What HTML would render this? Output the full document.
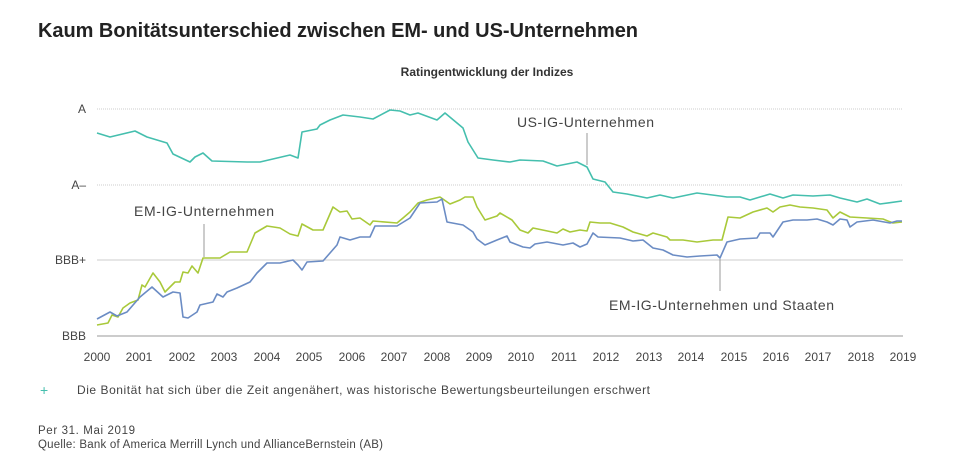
<!DOCTYPE html>
<html><head><meta charset="utf-8"><style>
body{margin:0;background:#fff;width:965px;height:462px;overflow:hidden;font-family:"Liberation Sans",sans-serif}
</style></head><body>
<svg width="965" height="462" xmlns="http://www.w3.org/2000/svg" font-family="Liberation Sans, sans-serif">
<text x="38" y="37" font-size="20" font-weight="bold" fill="#222" textLength="600">Kaum Bonitätsunterschied zwischen EM- und US-Unternehmen</text>
<text x="487" y="76" font-size="12" font-weight="bold" fill="#333" text-anchor="middle">Ratingentwicklung der Indizes</text>
<g stroke="#ccc" stroke-width="1" stroke-dasharray="1,1">
<line x1="97" y1="109" x2="903" y2="109"/><line x1="97" y1="185" x2="903" y2="185"/></g>
<g stroke="#ccc" stroke-width="1"><line x1="97" y1="260" x2="903" y2="260"/></g>
<line x1="97" y1="336" x2="903" y2="336" stroke="#999" stroke-width="1"/>
<g font-size="12" fill="#444" text-anchor="end">
<text x="86" y="113">A</text><text x="86" y="189">A–</text><text x="86" y="264">BBB+</text><text x="86" y="340">BBB</text></g>
<g font-size="12" fill="#444" text-anchor="middle">
<text x="97" y="361">2000</text><text x="139" y="361">2001</text><text x="182" y="361">2002</text><text x="224" y="361">2003</text><text x="267" y="361">2004</text><text x="309" y="361">2005</text><text x="352" y="361">2006</text><text x="394" y="361">2007</text><text x="437" y="361">2008</text><text x="479" y="361">2009</text><text x="521" y="361">2010</text><text x="564" y="361">2011</text><text x="606" y="361">2012</text><text x="649" y="361">2013</text><text x="691" y="361">2014</text><text x="734" y="361">2015</text><text x="776" y="361">2016</text><text x="818" y="361">2017</text><text x="861" y="361">2018</text><text x="903" y="361">2019</text></g>
<g fill="none" stroke-width="1.6" stroke-linejoin="round">
<polyline stroke="#45bfae" points="97,133 110,137 135,131 147,137 167,143 173,154 190,162 195,157 203,153 212,161 247,162 260,162 290,155 298,158 302,132 317,129 320,125 330,120 343,115 360,117 373,119 390,110 400,111 410,115 418,113 437,120 445,113 463,128 468,142 478,158 493,160 510,162 520,160 543,161 557,166 577,162 587,167 593,179 605,182 613,192 627,194 647,198 660,195 673,198 697,193 720,196 727,197 740,197 750,200 770,194 783,198 793,195 813,196 830,195 840,198 857,202 867,199 880,204 902,201"/>
<polyline stroke="#a9c93a" points="97,325 108,323 112,315 118,317 123,308 130,303 138,300 142,285 145,287 153,273 160,282 165,292 175,282 180,282 183,272 188,273 192,266 198,273 203,258 220,258 230,252 247,252 255,233 267,226 280,228 290,234 298,236 302,224 313,230 323,230 333,207 340,212 347,211 352,219 360,218 370,225 373,221 397,223 403,218 410,212 418,203 427,200 440,197 450,204 460,200 465,197 473,197 477,207 485,220 497,216 500,213 512,220 520,230 528,233 533,228 557,233 563,229 570,232 580,230 587,231 590,222 600,223 610,223 623,227 633,232 647,236 653,233 667,237 670,240 683,240 697,242 713,240 722,240 728,217 740,218 753,212 767,208 773,212 780,207 790,205 800,207 813,208 827,210 833,218 840,212 850,217 867,218 883,219 893,223 902,222"/>
<polyline stroke="#6b8cc4" points="97,319 110,312 117,316 127,312 140,297 152,287 163,297 173,292 180,293 183,317 188,318 197,312 200,305 213,302 217,294 223,297 227,292 237,288 250,282 257,273 267,263 280,263 293,260 298,265 302,270 307,262 323,261 337,245 340,237 350,240 360,237 370,237 375,226 397,226 410,218 420,203 437,202 442,199 447,222 463,225 473,232 477,239 485,245 497,240 507,236 510,242 523,247 530,248 535,244 547,242 563,245 573,243 580,247 587,244 593,233 598,237 620,238 633,241 643,240 653,248 663,250 673,255 687,257 700,256 717,255 720,258 727,242 740,239 757,238 760,233 770,233 773,237 783,222 793,220 807,220 817,219 827,222 833,225 840,219 847,220 850,227 857,222 873,220 890,223 897,221 902,221"/>
</g>
<g stroke="#999" stroke-width="1">
<line x1="587" y1="133" x2="587" y2="165"/><line x1="204" y1="224" x2="204" y2="257"/><line x1="720" y1="259" x2="720" y2="291"/></g>
<g font-size="14" fill="#444">
<text x="517" y="127" textLength="137">US-IG-Unternehmen</text>
<text x="134" y="216" textLength="140">EM-IG-Unternehmen</text>
<text x="609" y="310" textLength="225">EM-IG-Unternehmen und Staaten</text></g>
<text x="40" y="395" font-size="14" fill="#45bfae">+</text>
<text x="77" y="394" font-size="12" fill="#444" textLength="573">Die Bonität hat sich über die Zeit angenähert, was historische Bewertungsbeurteilungen erschwert</text>
<text x="38" y="434" font-size="11.5" fill="#444" textLength="97">Per 31. Mai 2019</text>
<text x="38" y="448" font-size="11.5" fill="#444" textLength="345">Quelle: Bank of America Merrill Lynch und AllianceBernstein (AB)</text>
</svg>
</body></html>
